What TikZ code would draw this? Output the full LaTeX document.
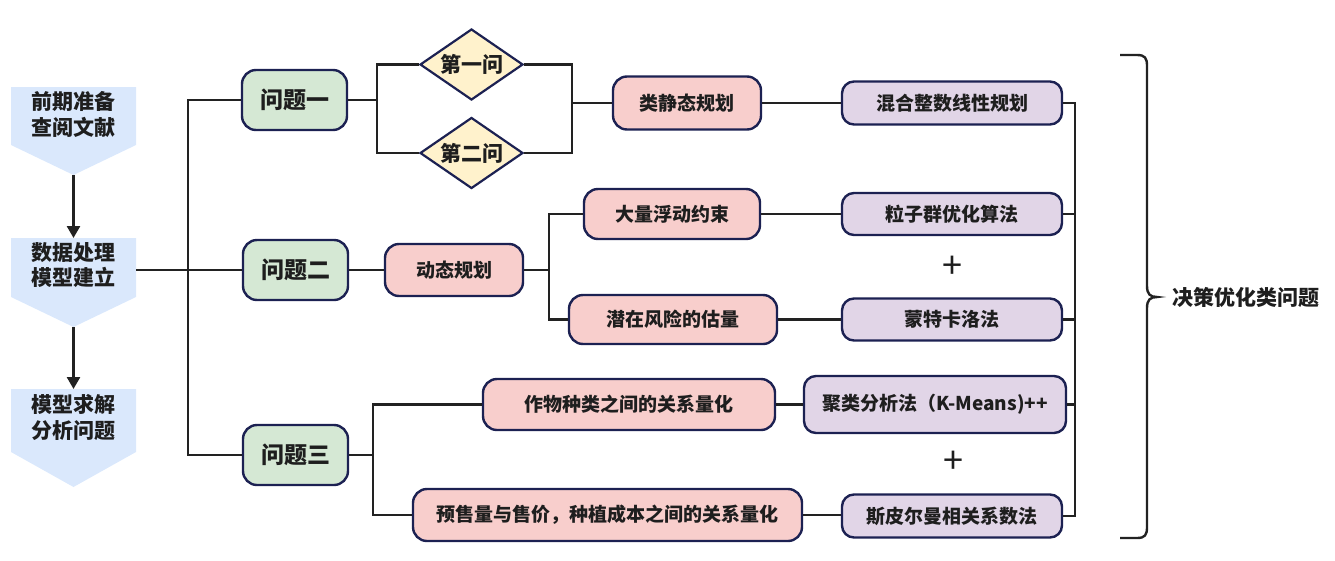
\documentclass[tikz,border=0pt]{standalone}
\usepackage{fontspec}
\setmainfont{Noto Sans CJK SC}
\usetikzlibrary{shapes.geometric,arrows.meta}
\definecolor{navy}{HTML}{1C2152}
\definecolor{lineC}{HTML}{222222}
\definecolor{txtC}{HTML}{1E1E1E}
\definecolor{chevF}{HTML}{DAE8FC}
\definecolor{greenF}{HTML}{D5E8D4}
\definecolor{pinkF}{HTML}{F8CECC}
\definecolor{purpF}{HTML}{E1D5E7}
\definecolor{diaF}{HTML}{FFF2CC}
\tikzset{
 box/.style={draw=navy,line width=2.4pt,rounded corners=14pt,inner sep=0pt,text=txtC,font=\bfseries\fontsize{19}{22}\selectfont},
 qbox/.style={box,fill=greenF,minimum width=105pt,minimum height=60pt,font=\bfseries\fontsize{23}{26}\selectfont},
 sbox/.style={box,fill=pinkF},
 mbox/.style={box,fill=purpF,rounded corners=12pt},
 dbox/.style={diamond,draw=navy,line width=2.2pt,fill=diaF,shape aspect=1.45,minimum width=103pt,minimum height=71pt,inner sep=0pt,text=txtC,font=\bfseries\fontsize{21}{24}\selectfont},
 chev/.style={fill=chevF},
 chevtxt/.style={align=center,text=txtC,font=\bfseries\fontsize{21}{25.5}\selectfont,inner sep=0pt},
 conn/.style={draw=lineC,line width=2.6pt},
 arr/.style={conn,-{Triangle[length=12pt,width=13pt]}},
 plus/.style={text=txtC,font=\fontsize{36}{36}\selectfont,inner sep=0pt},
}
\begin{document}
\begin{tikzpicture}[x=1pt,y=-1pt]
\useasboundingbox (0,0) rectangle (1335,560);
% left chevrons
\fill[chev] (11,87) -- (136,87) -- (136,145) -- (73.5,175) -- (11,145) -- cycle;
\fill[chev] (11,238) -- (136,238) -- (136,297) -- (73.5,327) -- (11,297) -- cycle;
\fill[chev] (11,389) -- (136,389) -- (136,452) -- (73.5,487) -- (11,452) -- cycle;
\node[chevtxt] (c1) at (73.5,114.5) {前期准备\\查阅文献};
\node[chevtxt] (c2) at (73.5,265) {数据处理\\模型建立};
\node[chevtxt] (c3) at (73.5,417.5) {模型求解\\分析问题};
\coordinate (c1tip) at (73.5,175);
\coordinate (c2top) at (73.5,238);
\coordinate (c2tip) at (73.5,327);
\coordinate (c3top) at (73.5,389);
\coordinate (c2r) at (136,270);
\draw[arr] (c1tip) -- (c2top);
\draw[arr] (c2tip) -- (c3top);
% question nodes
\node[qbox] (q1) at (294.5,100) {问题一};
\node[qbox] (q2) at (295.5,270) {问题二};
\node[qbox] (q3) at (295.5,455) {问题三};
% diamonds
\node[dbox] (d1) at (471.5,64.5) {第一问};
\node[dbox] (d2) at (471.5,153) {第二问};
% pink boxes
\node[sbox,minimum width=148pt,minimum height=53pt] (s1) at (687,103) {类静态规划};
\node[sbox,minimum width=176pt,minimum height=50pt] (s2) at (672,214) {大量浮动约束};
\node[sbox,minimum width=138pt,minimum height=52pt] (dp) at (454,270) {动态规划};
\node[sbox,minimum width=208pt,minimum height=49pt] (s3) at (673,319.5) {潜在风险的估量};
\node[sbox,minimum width=292pt,minimum height=51pt] (s4) at (629,404.5) {作物种类之间的关系量化};
\node[sbox,minimum width=389pt,minimum height=52pt] (s5) at (607.5,515) {预售量与售价，种植成本之间的关系量化};
% purple boxes
\node[mbox,minimum width=220pt,minimum height=43pt] (m1) at (952,103) {混合整数线性规划};
\node[mbox,minimum width=220pt,minimum height=42pt] (m2) at (952,214) {粒子群优化算法};
\node[mbox,minimum width=220pt,minimum height=42pt] (m3) at (952,319.5) {蒙特卡洛法};
\node[mbox,minimum width=262pt,minimum height=57pt] (m4) at (935,404.5) {聚类分析法（K-Means)++};
\node[mbox,minimum width=220pt,minimum height=43pt] (m5) at (952,516) {斯皮尔曼相关系数法};
\node[plus] (p1) at (952,267) {+};
\node[plus] (p2) at (953,462) {+};
% trunk from data processing
\coordinate (tB) at (188,455);
\draw[conn] (c2r) -- (q2.west);
\draw[conn] (q1.west) -| (tB) -- (q3.west);
% question one branch
\coordinate (bL) at (377,100);
\coordinate (bR) at (572,103);
\draw[conn] (q1.east) -- (bL);
\draw[conn] (d1.west) -| (bL) |- (d2.west);
\draw[conn] (d1.east) -| (bR) |- (d2.east);
\draw[conn] (bR) -- (s1.west);
\draw[conn] (s1.east) -- (m1.west);
% question two branch
\coordinate (b2) at (549,270);
\draw[conn] (q2.east) -- (dp.west);
\draw[conn] (dp.east) -- (b2);
\draw[conn] (s2.west) -| (b2) |- (s3.west);
\draw[conn] (s2.east) -- (m2.west);
\draw[conn] (s3.east) -- (m3.west);
% question three branch
\coordinate (b3) at (373,455);
\draw[conn] (q3.east) -- (b3);
\draw[conn] (s4.west) -| (b3) |- (s5.west);
\draw[conn] (s4.east) -- (m4.west);
\draw[conn] (s5.east) -- (s5.east -| m5.west);
% right collector
\coordinate (rT) at (1075,103);
\coordinate (rB) at (1075,516);
\draw[conn] (m1.east) -- (rT) -- (rB) -- (m5.east);
\draw[conn] (m2.east) -- (m2.east -| rT);
\draw[conn] (m3.east) -- (m3.east -| rT);
\draw[conn] (m4.east) -- (m4.east -| rT);
% brace
\draw[lineC,line width=2.4pt] (1120,55) -- (1137,55) .. controls (1145,55) and (1147,58) .. (1147,66) -- (1147,286) .. controls (1147,294) and (1150,297) .. (1157,297) .. controls (1150,297) and (1147,300) .. (1147,308) -- (1147,527) .. controls (1147,535) and (1145,538) .. (1137,538) -- (1120,538);
\node[anchor=west,inner sep=0pt,text=txtC,font=\bfseries\fontsize{21}{24}\selectfont] (dec) at (1172,297) {决策优化类问题};
\end{tikzpicture}
\end{document}
